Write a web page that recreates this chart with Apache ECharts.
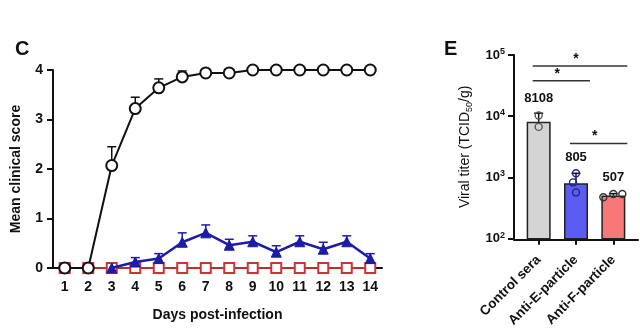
<!DOCTYPE html>
<html>
<head>
<meta charset="utf-8">
<script src="https://cdn.jsdelivr.net/npm/echarts@6/dist/echarts.min.js"></script>
<style>
  html, body { margin: 0; padding: 0; background: #fff; }
  #chart { width: 640px; height: 330px; }
</style>
</head>
<body>
<div id="chart"></div>
<script>
// Panel C: clinical score over time
const days = ['1', '2', '3', '4', '5', '6', '7', '8', '9', '10', '11', '12', '13', '14'];
const controlScore = [0, 0, 2.07, 3.22, 3.64, 3.86, 3.94, 3.94, 4, 4, 4, 4, 4, 4];
const controlSd = [0, 0, 0.38, 0.23, 0.18, 0.12, 0, 0, 0, 0, 0, 0, 0, 0];
const antiEScore = [null, null, 0, 0.12, 0.19, 0.52, 0.71, 0.46, 0.53, 0.32, 0.53, 0.38, 0.53, 0.19];
const antiESd = [null, null, 0, 0.09, 0.10, 0.19, 0.16, 0.12, 0.12, 0.13, 0.12, 0.14, 0.12, 0.10];
const antiFScore = [0, 0, 0, 0, 0, 0, 0, 0, 0, 0, 0, 0, 0, 0];

// Panel E: viral titer
const groups = ['Control sera', 'Anti-E-particle', 'Anti-F-particle'];
const titerMean = [8108, 805, 507];
const titerUpper = [11200, 1170, 545];
const titerPoints = [[10300, 6700], [1170, 830, 570], [474, 537, 537]];
const sigPairs = [[0, 2], [0, 1], [1, 2]];
const sigLevels = [66000, 37800, 3600];
const sigMarks = ['*', '*', '*'];

const FONT = 'Liberation Sans, Arial, sans-serif';
const INK = '#111';
const BLUE = '#1c1ca6';
const RED = '#c93434';
const barColors = ['#d4d4d4', '#5a5cf2', '#f87878'];
const pointColors = ['#555', '#22228a', '#333'];
// horizontal pixel spread of replicate dots inside each bar
const dotSpread = [[0, 0], [0, -3, 0], [-10, 0, 9]];

function errorBarSeries(means, sds, color, gridIdx) {
  const data = [];
  means.forEach((m, i) => {
    if (m != null && sds[i]) data.push([i, m, m + sds[i]]);
  });
  return {
    type: 'custom', xAxisIndex: gridIdx, yAxisIndex: gridIdx, z: 1,
    encode: { x: 0, y: [1, 2] },
    data: data,
    renderItem: function (params, api) {
      const base = api.coord([api.value(0), api.value(1)]);
      const top = api.coord([api.value(0), api.value(2)]);
      const st = { stroke: color, lineWidth: 1.5 };
      return {
        type: 'group', children: [
          { type: 'line', shape: { x1: base[0], y1: base[1], x2: top[0], y2: top[1] }, style: st },
          { type: 'line', shape: { x1: top[0] - 4.5, y1: top[1], x2: top[0] + 4.5, y2: top[1] }, style: st }
        ]
      };
    }
  };
}

const pointData = [];
titerPoints.forEach((pts, g) => pts.forEach((v, k) => pointData.push([g, v, k])));

const sigData = sigPairs.map((p, i) => [p[0], p[1], sigLevels[i], i]);

const supLabel = function (v) {
  const e = Math.round(Math.log10(v));
  return '{b|10}{s|' + e + '}';
};

const option = {
  animation: false,
  backgroundColor: '#fff',
  textStyle: { fontFamily: FONT },
  title: [
    { text: 'C', left: 10, top: 34, textStyle: { fontSize: 20, fontWeight: 'bold', color: INK, fontFamily: FONT } },
    { text: 'E', left: 439, top: 34, textStyle: { fontSize: 20, fontWeight: 'bold', color: INK, fontFamily: FONT } }
  ],
  grid: [
    { left: 53, right: 258, top: 70, bottom: 62 },
    { left: 520, right: 8, top: 55, bottom: 90 },
    { left: 514, right: 2, top: 55, bottom: 90 }
  ],
  xAxis: [
    {
      type: 'category', gridIndex: 0, data: days, boundaryGap: true,
      axisLine: { lineStyle: { color: INK, width: 2 } },
      axisTick: { alignWithLabel: true, length: 6, lineStyle: { color: INK, width: 2 } },
      axisLabel: { color: INK, fontSize: 14, fontWeight: 'bold', margin: 12, fontFamily: FONT },
      name: 'Days post-infection', nameLocation: 'middle', nameGap: 40,
      nameTextStyle: { color: INK, fontSize: 14, fontWeight: 'bold', fontFamily: FONT },
      splitLine: { show: false }
    },
    {
      type: 'category', gridIndex: 1, data: groups, boundaryGap: true,
      axisLine: { show: false },
      axisTick: { show: true, alignWithLabel: true, length: 6, lineStyle: { color: INK, width: 2 } },
      axisLabel: { color: INK, fontSize: 13.5, fontWeight: 'bold', rotate: 45, margin: 19, fontFamily: FONT },
      splitLine: { show: false }
    },
    {
      type: 'value', gridIndex: 2, min: 0, max: 1,
      axisLine: { show: true, onZero: false, lineStyle: { color: INK, width: 2 } },
      axisTick: { show: false }, axisLabel: { show: false }, splitLine: { show: false }
    }
  ],
  yAxis: [
    {
      type: 'value', gridIndex: 0, min: 0, max: 4, interval: 1,
      axisLine: { show: true, lineStyle: { color: INK, width: 2 } },
      axisTick: { show: true, length: 6, lineStyle: { color: INK, width: 2 } },
      axisLabel: { color: INK, fontSize: 14, fontWeight: 'bold', margin: 10, fontFamily: FONT },
      name: 'Mean clinical score', nameLocation: 'middle', nameGap: 30, nameRotate: 90,
      nameTextStyle: { color: INK, fontSize: 14, fontWeight: 'bold', fontFamily: FONT },
      splitLine: { show: false }
    },
    {
      type: 'log', gridIndex: 1, logBase: 10, min: 100, max: 100000, offset: 6,
      axisLine: { show: true, lineStyle: { color: INK, width: 2 } },
      axisTick: { show: true, length: 6, lineStyle: { color: INK, width: 2 } },
      axisLabel: {
        margin: 9, formatter: supLabel,
        rich: {
          b: { fontSize: 13, fontWeight: 'bold', color: INK, fontFamily: FONT, lineHeight: 16 },
          s: { fontSize: 9, fontWeight: 'bold', color: INK, fontFamily: FONT, lineHeight: 10, verticalAlign: 'top' }
        }
      },
      name: '{a|Viral titer (TCID}{s|50}{a|/g)}', nameLocation: 'middle', nameGap: 40, nameRotate: 90,
      nameTextStyle: {
        rich: {
          a: { fontSize: 14, color: INK, fontFamily: FONT, lineHeight: 18 },
          s: { fontSize: 9, color: INK, fontFamily: FONT, lineHeight: 11, verticalAlign: 'bottom' }
        }
      },
      splitLine: { show: false }
    },
    { type: 'value', gridIndex: 2, show: false, min: 0, max: 1 }
  ],
  series: [
    {
      name: 'Anti-F-particle', type: 'line', xAxisIndex: 0, yAxisIndex: 0, z: 2,
      data: antiFScore, symbol: 'rect', symbolSize: 10,
      itemStyle: { color: '#fff', borderColor: RED, borderWidth: 2 },
      lineStyle: { color: '#b8302e', width: 2 }
    },
    errorBarSeries(antiEScore, antiESd, BLUE, 0),
    {
      name: 'Anti-E-particle', type: 'line', xAxisIndex: 0, yAxisIndex: 0, z: 3,
      data: antiEScore, symbol: 'triangle', symbolSize: 10,
      itemStyle: { color: BLUE, borderColor: BLUE, borderWidth: 1 },
      lineStyle: { color: BLUE, width: 2.5 }
    },
    errorBarSeries(controlScore, controlSd, INK, 0),
    {
      name: 'Control sera', type: 'line', xAxisIndex: 0, yAxisIndex: 0, z: 4,
      data: controlScore, symbol: 'circle', symbolSize: 11,
      itemStyle: { color: '#fff', borderColor: INK, borderWidth: 2 },
      lineStyle: { color: INK, width: 2 }
    },
    {
      name: 'Viral titer', type: 'bar', xAxisIndex: 1, yAxisIndex: 1, barWidth: 24, z: 2,
      data: titerMean.map((v, i) => ({
        value: v,
        itemStyle: { color: barColors[i], borderColor: '#222', borderWidth: 1.5 },
        label: { distance: [17, 19, 12][i] }
      })),
      label: {
        show: true, position: 'top', color: INK, fontSize: 13, fontWeight: 'bold', fontFamily: FONT
      }
    },
    errorBarSeries(titerMean, titerMean.map((m, i) => titerUpper[i] - m), INK, 1),
    {
      type: 'custom', xAxisIndex: 1, yAxisIndex: 1, z: 5,
      encode: { x: 0, y: 1 },
      data: pointData,
      renderItem: function (params, api) {
        const g = api.value(0), k = api.value(2);
        const c = api.coord([g, api.value(1)]);
        return {
          type: 'circle',
          shape: { cx: c[0] + dotSpread[g][k], cy: c[1], r: 3.5 },
          style: { fill: 'rgba(255,255,255,0)', stroke: pointColors[g], lineWidth: 1.4 }
        };
      }
    },
    {
      type: 'custom', xAxisIndex: 1, yAxisIndex: 1, z: 5,
      encode: { x: [0, 1], y: 2 },
      data: sigData,
      renderItem: function (params, api) {
        const a = api.coord([api.value(0), api.value(2)]);
        const b = api.coord([api.value(1), api.value(2)]);
        const mid = (a[0] + b[0]) / 2;
        return {
          type: 'group', children: [
            { type: 'line', shape: { x1: a[0] - 6, y1: a[1], x2: b[0] + 14, y2: b[1] },
              style: { stroke: '#333', lineWidth: 1.5 } },
            { type: 'text', x: mid, y: a[1] - 7,
              style: { text: sigMarks[api.value(3)], fill: INK, fontSize: 14, fontWeight: 'bold',
                       fontFamily: FONT, align: 'center', verticalAlign: 'middle' } }
          ]
        };
      }
    }
  ]
};

const chart = echarts.init(document.getElementById('chart'), null, { renderer: 'canvas' });
chart.setOption(option);
</script>
</body>
</html>
